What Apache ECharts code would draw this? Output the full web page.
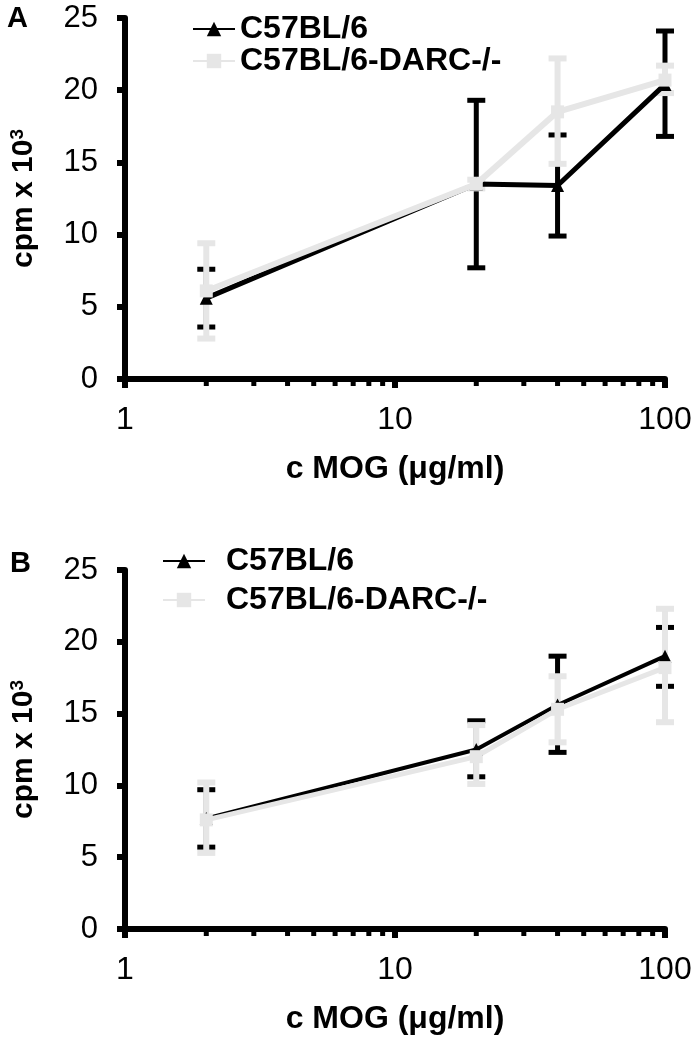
<!DOCTYPE html>
<html>
<head>
<meta charset="utf-8">
<script src="https://cdn.jsdelivr.net/npm/echarts@6/dist/echarts.min.js"></script>
<style>
  html, body { margin: 0; padding: 0; background: #fff; }
  #chart { width: 700px; height: 1043px; }
</style>
</head>
<body>
<div id="chart"></div>
<script>
// concentrations (ug/ml)
const conc = [2, 20, 40, 100]
const minorTicks = [2, 3, 4, 5, 6, 7, 8, 9, 20, 30, 40, 50, 60, 70, 80, 90]
const yTicks = [0, 5, 10, 15, 20, 25]
const names = ['C57BL/6', 'C57BL/6-DARC-/-']

// panel A
const aWtMean = [5.6, 13.5, 13.4, 20.4]
const aWtLow = [3.6, 7.7, 9.9, 16.8]
const aWtHigh = [7.6, 19.3, 16.9, 24.1]
const aKoMean = [6.1, 13.5, 18.5, 20.7]
const aKoLow = [2.8, 13.2, 14.9, 19.8]
const aKoHigh = [9.4, 13.8, 22.2, 21.7]

// panel B
const bWtMean = [7.7, 12.5, 15.6, 19.0]
const bWtLow = [5.7, 10.6, 12.3, 16.9]
const bWtHigh = [9.7, 14.5, 19.0, 21.0]
const bKoMean = [7.6, 12.0, 15.3, 18.2]
const bKoLow = [5.3, 10.1, 13.0, 14.4]
const bKoHigh = [10.2, 14.2, 17.6, 22.3]

const FONT = '"Liberation Sans", Arial, Helvetica, sans-serif'
const BLACK = '#000'
const GRAY = '#e6e6e6'

const chart = echarts.init(document.getElementById('chart'))

function pairs(xs, ys) {
  return xs.map((x, i) => [x, ys[i]])
}

function errorSeries(idx, low, high, color, width) {
  return {
    type: 'custom',
    xAxisIndex: idx,
    yAxisIndex: idx,
    silent: true,
    clip: false,
    data: conc.map((x, i) => [x, low[i], high[i]]),
    renderItem(params, api) {
      const lo = api.coord([api.value(0), api.value(1)])
      const hi = api.coord([api.value(0), api.value(2)])
      const half = 9
      const style = { stroke: color, lineWidth: width }
      return {
        type: 'group',
        children: [
          { type: 'line', shape: { x1: lo[0], y1: lo[1], x2: hi[0], y2: hi[1] }, style },
          { type: 'line', shape: { x1: hi[0] - half, y1: hi[1], x2: hi[0] + half, y2: hi[1] }, style },
          { type: 'line', shape: { x1: lo[0] - half, y1: lo[1], x2: lo[0] + half, y2: lo[1] }, style }
        ]
      }
    }
  }
}

function lineSeries(idx, name, mean, color, width, symbol) {
  return {
    type: 'line',
    name,
    xAxisIndex: idx,
    yAxisIndex: idx,
    data: pairs(conc, mean),
    symbol,
    symbolSize: 13,
    lineStyle: { color, width },
    itemStyle: { color },
    emphasis: { disabled: true }
  }
}

function minorTickSeries(idx) {
  return {
    type: 'custom',
    xAxisIndex: idx,
    yAxisIndex: idx,
    silent: true,
    clip: false,
    data: minorTicks.map(v => [v, 0]),
    renderItem(params, api) {
      const p = api.coord([api.value(0), api.value(1)])
      return {
        type: 'rect',
        shape: { x: p[0] - 2.5, y: p[1], width: 5, height: 7 },
        style: { fill: BLACK }
      }
    }
  }
}

function xAxis(idx) {
  return {
    type: 'log',
    gridIndex: idx,
    logBase: 10,
    min: 1,
    max: 100,
    name: 'c MOG (\u03bcg/ml)',
    nameLocation: 'middle',
    nameGap: 74,
    nameTextStyle: { fontFamily: FONT, fontSize: 32, fontWeight: 'bold', color: BLACK },
    axisLine: { lineStyle: { color: BLACK, width: 6 } },
    axisTick: { length: 9, lineStyle: { color: BLACK, width: 6 } },
    splitLine: { show: false },
    minorTick: { show: false },
    axisLabel: { fontFamily: FONT, fontSize: 32, color: BLACK, margin: 25 }
  }
}

function yAxis(idx) {
  return {
    type: 'value',
    gridIndex: idx,
    min: 0,
    max: 25,
    interval: 5,
    name: 'cpm x 10{sup|3}',
    nameLocation: 'middle',
    nameGap: 86,
    nameTextStyle: {
      fontFamily: FONT, fontSize: 30, fontWeight: 'bold', color: BLACK,
      rich: {
        sup: { fontFamily: FONT, fontSize: 19, fontWeight: 'bold', color: BLACK, verticalAlign: 'top', padding: [0, 0, 12, 0] }
      }
    },
    axisLine: { show: true, lineStyle: { color: BLACK, width: 6 } },
    axisTick: { show: true, length: 8, lineStyle: { color: BLACK, width: 6 } },
    splitLine: { show: false },
    axisLabel: {
      fontFamily: FONT, fontSize: 31, color: BLACK, margin: 27,
      formatter: v => (yTicks.includes(v) ? String(v) : '')
    }
  }
}

function legend(top, left, gap, pad) {
  return {
    orient: 'vertical',
    top,
    left,
    itemGap: gap,
    itemWidth: 42,
    itemHeight: 18,
    selectedMode: false,
    data: names,
    textStyle: {
      fontFamily: FONT, fontSize: 32, fontWeight: 'bold', color: BLACK,
      padding: [0, 0, 0, pad]
    }
  }
}

const option = {
  animation: false,
  backgroundColor: '#fff',
  grid: [
    { left: 124, top: 18, width: 541, height: 361 },
    { left: 124, top: 570, width: 541, height: 359 }
  ],
  xAxis: [xAxis(0), xAxis(1)],
  yAxis: [yAxis(0), yAxis(1)],
  legend: [legend(8, 187, 0, 0), legend(540, 157, 7, 16)],
  graphic: [
    { type: 'text', left: 7, top: 4, style: { text: 'A', fontFamily: FONT, fontSize: 29, fontWeight: 'bold', fill: BLACK } },
    { type: 'text', left: 10, top: 549, style: { text: 'B', fontFamily: FONT, fontSize: 29, fontWeight: 'bold', fill: BLACK } }
  ],
  series: [
    minorTickSeries(0),
    minorTickSeries(1),
    errorSeries(0, aWtLow, aWtHigh, BLACK, 5),
    lineSeries(0, names[0], aWtMean, BLACK, 5, 'triangle'),
    errorSeries(0, aKoLow, aKoHigh, GRAY, 6),
    lineSeries(0, names[1], aKoMean, GRAY, 6, 'rect'),
    errorSeries(1, bWtLow, bWtHigh, BLACK, 5),
    lineSeries(1, names[0], bWtMean, BLACK, 4, 'triangle'),
    errorSeries(1, bKoLow, bKoHigh, GRAY, 6),
    lineSeries(1, names[1], bKoMean, GRAY, 5, 'rect')
  ]
}

chart.setOption(option)
window.addEventListener('resize', () => chart.resize())
</script>
</body>
</html>
